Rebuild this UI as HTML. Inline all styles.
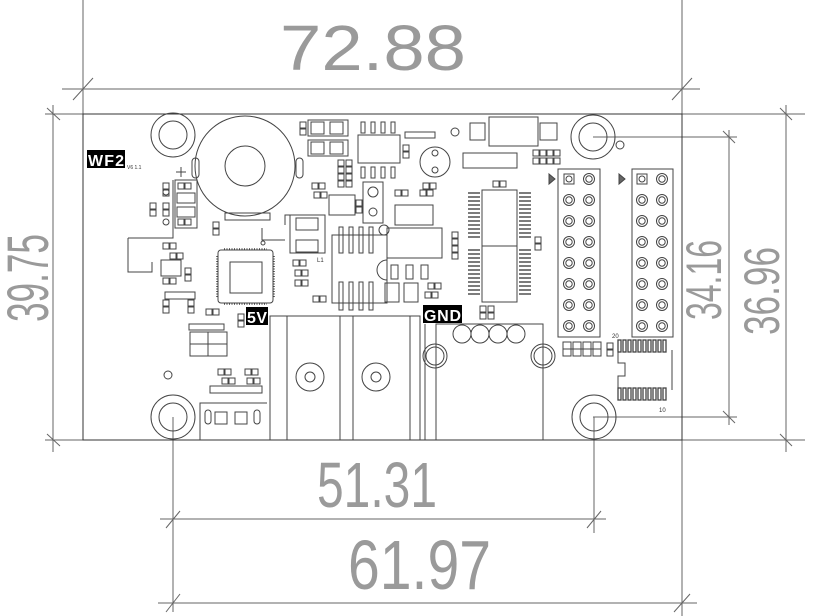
<!DOCTYPE html>
<html><head><meta charset="utf-8"><style>
html,body{margin:0;padding:0;background:#fff;}
svg{display:block;}
.d{font-family:"Liberation Sans Narrow","Liberation Sans",sans-serif;fill:#9a9a9a;}
</style></head><body>
<svg width="825" height="616" viewBox="0 0 825 616" xmlns="http://www.w3.org/2000/svg">
<defs>
<g id="rp"><rect x="0" y="0" width="6" height="6"/><rect x="7" y="0" width="6" height="6"/></g>
<g id="rv"><rect x="0" y="0" width="6" height="6"/><rect x="0" y="7" width="6" height="6"/></g>
<g id="pin"><circle r="5.5"/><circle r="3.2"/></g>
</defs>
<g fill="none" stroke="#444" stroke-width="1">
<g stroke="#666">
<line x1="83" y1="0" x2="83" y2="114"/><line x1="682" y1="0" x2="682" y2="616"/>
<line x1="62" y1="89" x2="700" y2="89"/>
<line x1="73" y1="100" x2="93" y2="78"/><line x1="672" y1="100" x2="692" y2="78"/>
<line x1="45" y1="114" x2="805" y2="114"/><line x1="45" y1="440" x2="805" y2="440"/>
<line x1="53" y1="105" x2="53" y2="452"/>
<line x1="47" y1="108" x2="60" y2="120"/><line x1="47" y1="434" x2="60" y2="446"/>
<line x1="593" y1="137" x2="737" y2="137"/><line x1="593" y1="417" x2="737" y2="417"/>
<line x1="729" y1="130" x2="729" y2="425"/>
<line x1="723" y1="131" x2="735" y2="143"/><line x1="723" y1="411" x2="735" y2="423"/>
<line x1="786" y1="105" x2="786" y2="452"/>
<line x1="780" y1="108" x2="792" y2="120"/><line x1="780" y1="434" x2="792" y2="446"/>
<line x1="173" y1="417" x2="173" y2="612"/><line x1="594" y1="417" x2="594" y2="533"/>
<line x1="160" y1="519" x2="606" y2="519"/>
<line x1="166" y1="528" x2="180" y2="511"/><line x1="587" y1="528" x2="601" y2="511"/>
<line x1="158" y1="603" x2="697" y2="603"/>
<line x1="166" y1="612" x2="180" y2="594"/><line x1="674" y1="612" x2="690" y2="594"/>
</g>
<rect x="83" y="114" width="599" height="326" stroke="#333"/>
<circle cx="173" cy="135" r="22"/><circle cx="173" cy="135" r="14"/>
<circle cx="593" cy="137" r="22"/><circle cx="593" cy="137" r="14"/>
<circle cx="173" cy="417" r="22"/><circle cx="173" cy="417" r="14"/>
<circle cx="594" cy="417" r="22"/><circle cx="594" cy="417" r="14"/>
<circle cx="168" cy="375" r="4"/><circle cx="455" cy="132" r="4"/><circle cx="620" cy="145" r="4"/>
<circle cx="245" cy="166" r="50"/><circle cx="245" cy="166" r="20"/>
<rect x="192" y="158" width="7" height="20" rx="3.5"/><rect x="296" y="158" width="7" height="20" rx="3.5"/>
<rect x="225" y="213" width="45" height="7"/>
<line x1="181" y1="167" x2="181" y2="177"/><line x1="176" y1="172" x2="186" y2="172"/>
<use href="#rv" x="163" y="183"/><use href="#rv" x="163" y="203" /><use href="#rv" x="150" y="203"/>
<rect x="175" y="180" width="22" height="48"/>
<use href="#rp" x="178" y="183"/><rect x="177" y="193" width="18" height="10"/><rect x="177" y="207" width="18" height="10"/><use href="#rp" x="178" y="219"/>
<circle cx="166" cy="192" r="3"/><circle cx="166" cy="222" r="3"/>
<polyline points="128,238 173,238 173,180"/><polyline points="128,238 128,272 152,272 152,262"/>
<use href="#rp" x="163" y="243"/><use href="#rp" x="170" y="253"/><rect x="161" y="260" width="20" height="16"/><use href="#rp" x="163" y="278"/><use href="#rv" x="185" y="268"/>
<rect x="165" y="292" width="30" height="7"/><use href="#rv" x="163" y="300"/><use href="#rv" x="188" y="300"/>
<use href="#rv" x="213" y="222"/>
<use href="#rp" x="206" y="309"/><use href="#rv" x="238" y="314"/>
<rect x="189" y="324" width="35" height="6"/>
<rect x="190" y="332" width="37" height="24"/><line x1="208" y1="332" x2="208" y2="356"/><line x1="190" y1="344" x2="227" y2="344"/>
<use href="#rp" x="218" y="369"/><use href="#rp" x="245" y="369"/><use href="#rp" x="222" y="378"/><use href="#rp" x="247" y="378"/>
<rect x="210" y="386" width="52" height="7"/>
<polyline points="200,440 200,403 267,403"/>
<rect x="205" y="410" width="6" height="14" rx="3"/><rect x="254" y="410" width="6" height="14" rx="3"/>
<rect x="215" y="412" width="12" height="12"/><rect x="235" y="412" width="12" height="12"/>
<rect x="218" y="250" width="55" height="53" rx="3"/>
<rect x="230" y="262" width="32" height="31"/>
<g stroke-width="1.5" stroke-dasharray="1 1.5"><line x1="224" y1="249" x2="267" y2="249"/><line x1="224" y1="304" x2="267" y2="304"/><line x1="217" y1="256" x2="217" y2="297"/><line x1="274" y1="256" x2="274" y2="297"/></g>
<polyline points="262,228 262,240 285,240"/><circle cx="263" cy="243" r="2"/>
<rect x="290" y="215" width="35" height="38"/><rect x="296" y="218" width="22" height="12"/><rect x="296" y="240" width="22" height="12"/>
<polyline points="285,225 285,215 290,215"/>
<use href="#rp" x="293" y="260"/><use href="#rp" x="295" y="270"/><use href="#rp" x="295" y="280"/><use href="#rp" x="313" y="296"/>
<text x="317" y="262" font-size="6" fill="#333" stroke="none" font-family="Liberation Sans">L1</text>
<use href="#rv" x="300" y="122"/>
<rect x="308" y="120" width="40" height="16"/><rect x="311" y="122" width="13" height="12"/><rect x="330" y="122" width="13" height="12"/>
<rect x="308" y="140" width="40" height="16"/><rect x="311" y="142" width="13" height="12"/><rect x="330" y="142" width="13" height="12"/>
<rect x="358" y="135" width="42" height="28"/>
<rect x="361" y="122" width="4" height="11"/><rect x="371" y="122" width="4" height="11"/><rect x="381" y="122" width="4" height="11"/><rect x="391" y="122" width="4" height="11"/>
<rect x="361" y="167" width="4" height="11"/><rect x="371" y="167" width="4" height="11"/><rect x="381" y="167" width="4" height="11"/><rect x="391" y="167" width="4" height="11"/>
<rect x="405" y="132" width="30" height="6"/><use href="#rv" x="403" y="145"/>
<use href="#rv" x="338" y="160"/><use href="#rv" x="346" y="160"/><use href="#rv" x="338" y="174"/><use href="#rv" x="346" y="174"/>
<use href="#rp" x="312" y="183"/><use href="#rp" x="314" y="192"/>
<rect x="329" y="195" width="26" height="20"/><use href="#rv" x="356" y="200"/>
<rect x="363" y="182" width="20" height="41"/><circle cx="373" cy="192" r="5"/><circle cx="373" cy="212" r="4"/>
<circle cx="435" cy="162" r="15"/><circle cx="435" cy="153" r="3"/><circle cx="435" cy="170" r="3"/>
<use href="#rp" x="395" y="190"/><use href="#rp" x="420" y="190"/><use href="#rp" x="423" y="183"/>
<rect x="395" y="205" width="38" height="20"/>
<rect x="332" y="235" width="55" height="68"/>
<rect x="339" y="227" width="4" height="26"/><rect x="349" y="227" width="4" height="26"/><rect x="359" y="227" width="4" height="26"/><rect x="369" y="227" width="4" height="26"/>
<rect x="339" y="282" width="4" height="28"/><rect x="349" y="282" width="4" height="28"/><rect x="359" y="282" width="4" height="28"/><rect x="369" y="282" width="4" height="28"/>
<circle cx="384" cy="230" r="5"/>
<rect x="387" y="228" width="55" height="30"/>
<path d="M387,260 A10,10 0 0 0 387,280"/>
<rect x="391" y="265" width="7" height="14"/><rect x="406" y="265" width="7" height="14"/><rect x="421" y="265" width="7" height="14"/>
<rect x="385" y="283" width="14" height="19"/><rect x="404" y="283" width="14" height="19"/>
<use href="#rp" x="428" y="283"/><use href="#rp" x="425" y="292"/>
<use href="#rv" x="452" y="232"/><use href="#rv" x="452" y="246"/><use href="#rv" x="535" y="237"/>
<rect x="482" y="190" width="35" height="112"/>
<g stroke-width="1.4">
<line x1="468" y1="193" x2="480" y2="193"/><line x1="468" y1="197" x2="480" y2="197"/><line x1="468" y1="201" x2="480" y2="201"/><line x1="468" y1="205" x2="480" y2="205"/><line x1="468" y1="209" x2="480" y2="209"/><line x1="468" y1="213" x2="480" y2="213"/><line x1="468" y1="217" x2="480" y2="217"/><line x1="468" y1="221" x2="480" y2="221"/><line x1="468" y1="225" x2="480" y2="225"/><line x1="468" y1="229" x2="480" y2="229"/><line x1="468" y1="233" x2="480" y2="233"/><line x1="468" y1="237" x2="480" y2="237"/>
<line x1="468" y1="250" x2="480" y2="250"/><line x1="468" y1="254" x2="480" y2="254"/><line x1="468" y1="258" x2="480" y2="258"/><line x1="468" y1="262" x2="480" y2="262"/><line x1="468" y1="266" x2="480" y2="266"/><line x1="468" y1="270" x2="480" y2="270"/><line x1="468" y1="274" x2="480" y2="274"/><line x1="468" y1="278" x2="480" y2="278"/><line x1="468" y1="282" x2="480" y2="282"/><line x1="468" y1="286" x2="480" y2="286"/><line x1="468" y1="290" x2="480" y2="290"/><line x1="468" y1="294" x2="480" y2="294"/>
<line x1="519" y1="193" x2="531" y2="193"/><line x1="519" y1="197" x2="531" y2="197"/><line x1="519" y1="201" x2="531" y2="201"/><line x1="519" y1="205" x2="531" y2="205"/><line x1="519" y1="209" x2="531" y2="209"/><line x1="519" y1="213" x2="531" y2="213"/><line x1="519" y1="217" x2="531" y2="217"/><line x1="519" y1="221" x2="531" y2="221"/><line x1="519" y1="225" x2="531" y2="225"/><line x1="519" y1="229" x2="531" y2="229"/><line x1="519" y1="233" x2="531" y2="233"/><line x1="519" y1="237" x2="531" y2="237"/>
<line x1="519" y1="250" x2="531" y2="250"/><line x1="519" y1="254" x2="531" y2="254"/><line x1="519" y1="258" x2="531" y2="258"/><line x1="519" y1="262" x2="531" y2="262"/><line x1="519" y1="266" x2="531" y2="266"/><line x1="519" y1="270" x2="531" y2="270"/><line x1="519" y1="274" x2="531" y2="274"/><line x1="519" y1="278" x2="531" y2="278"/><line x1="519" y1="282" x2="531" y2="282"/><line x1="519" y1="286" x2="531" y2="286"/><line x1="519" y1="290" x2="531" y2="290"/><line x1="519" y1="294" x2="531" y2="294"/>
</g>
<line x1="482" y1="246" x2="517" y2="246"/>
<use href="#rp" x="493" y="181"/>
<rect x="470" y="123" width="15" height="17"/><rect x="489" y="117" width="49" height="29"/><rect x="540" y="123" width="17" height="17"/>
<rect x="463" y="153" width="54" height="15"/>
<use href="#rp" x="533" y="150"/><use href="#rp" x="547" y="150"/><use href="#rp" x="533" y="158"/><use href="#rp" x="547" y="158"/>
<rect x="558" y="169" width="42" height="168"/><rect x="632" y="169" width="41" height="168"/>
<rect x="564" y="174" width="10" height="10"/><rect x="637" y="174" width="10" height="10"/>
<circle cx="569" cy="179" r="3"/><circle cx="642" cy="179" r="3"/>
<use href="#pin" x="589" y="179"/><use href="#pin" x="662" y="179"/>
<use href="#pin" x="569" y="200"/><use href="#pin" x="589" y="200"/><use href="#pin" x="642" y="200"/><use href="#pin" x="662" y="200"/>
<use href="#pin" x="569" y="221"/><use href="#pin" x="589" y="221"/><use href="#pin" x="642" y="221"/><use href="#pin" x="662" y="221"/>
<use href="#pin" x="569" y="242"/><use href="#pin" x="589" y="242"/><use href="#pin" x="642" y="242"/><use href="#pin" x="662" y="242"/>
<use href="#pin" x="569" y="263"/><use href="#pin" x="589" y="263"/><use href="#pin" x="642" y="263"/><use href="#pin" x="662" y="263"/>
<use href="#pin" x="569" y="284"/><use href="#pin" x="589" y="284"/><use href="#pin" x="642" y="284"/><use href="#pin" x="662" y="284"/>
<use href="#pin" x="569" y="305"/><use href="#pin" x="589" y="305"/><use href="#pin" x="642" y="305"/><use href="#pin" x="662" y="305"/>
<use href="#pin" x="569" y="326"/><use href="#pin" x="589" y="326"/><use href="#pin" x="642" y="326"/><use href="#pin" x="662" y="326"/>
<polygon points="549,174 555,179 549,184" fill="#666"/><polygon points="619,174 625,179 619,184" fill="#666"/>
<rect x="563" y="342" width="8" height="14"/><rect x="573" y="342" width="8" height="14"/><rect x="583" y="342" width="8" height="14"/><rect x="593" y="342" width="8" height="14"/>
<line x1="563" y1="349" x2="601" y2="349"/>
<use href="#rv" x="607" y="343"/>
<polyline points="618,350 618,363 625,363 625,376 618,376 618,390"/>
<line x1="672" y1="350" x2="672" y2="390"/>
<g stroke-width="1.3"><rect x="618" y="340" width="3" height="12"/><rect x="623" y="340" width="3" height="12"/><rect x="628" y="340" width="3" height="12"/><rect x="633" y="340" width="3" height="12"/><rect x="638" y="340" width="3" height="12"/><rect x="643" y="340" width="3" height="12"/><rect x="648" y="340" width="3" height="12"/><rect x="653" y="340" width="3" height="12"/><rect x="658" y="340" width="3" height="12"/><rect x="663" y="340" width="3" height="12"/>
<rect x="618" y="388" width="3" height="12"/><rect x="623" y="388" width="3" height="12"/><rect x="628" y="388" width="3" height="12"/><rect x="633" y="388" width="3" height="12"/><rect x="638" y="388" width="3" height="12"/><rect x="643" y="388" width="3" height="12"/><rect x="648" y="388" width="3" height="12"/><rect x="653" y="388" width="3" height="12"/><rect x="658" y="388" width="3" height="12"/><rect x="663" y="388" width="3" height="12"/></g>
<polyline points="270,440 270,316 420,316 420,440"/>
<line x1="287" y1="316" x2="287" y2="440"/><line x1="340" y1="316" x2="340" y2="440"/><line x1="353" y1="316" x2="353" y2="440"/><line x1="410" y1="316" x2="410" y2="440"/>
<circle cx="310" cy="377" r="14"/><circle cx="310" cy="377" r="5"/>
<circle cx="376" cy="377" r="14"/><circle cx="376" cy="377" r="5"/>
<polyline points="436,440 436,324 543,324 543,440"/><line x1="425" y1="324" x2="425" y2="440"/>
<circle cx="435" cy="356" r="12"/><circle cx="435" cy="356" r="9"/>
<circle cx="543" cy="356" r="12"/><circle cx="543" cy="356" r="9"/>
<circle cx="462" cy="334" r="9"/><circle cx="480" cy="334" r="9"/><circle cx="498" cy="334" r="9"/><circle cx="516" cy="334" r="9"/>
<use href="#rv" x="480" y="306"/><use href="#rv" x="488" y="306"/>
</g>
<rect x="87" y="150" width="38" height="18" fill="#000"/>
<text x="88" y="166" font-family="Liberation Sans" font-weight="bold" font-size="16" fill="#fff" textLength="36">WF2</text>
<text x="127" y="169" font-family="Liberation Sans" font-size="5" fill="#333">V6 1.1</text>
<rect x="246" y="307" width="22" height="18" fill="#000"/>
<text x="247" y="323" font-family="Liberation Sans" font-weight="bold" font-size="16" fill="#fff" textLength="20">5V</text>
<rect x="423" y="305" width="39" height="18" fill="#000"/>
<text x="424" y="321" font-family="Liberation Sans" font-weight="bold" font-size="16" fill="#fff" textLength="37">GND</text>
<text x="612" y="338" font-family="Liberation Sans" font-size="6" fill="#333">20</text>
<text x="659" y="412" font-family="Liberation Sans" font-size="6" fill="#333">10</text>
<text class="d" x="280" y="70" font-size="64" textLength="186" lengthAdjust="spacingAndGlyphs">72.88</text>
<text class="d" x="317" y="507" font-size="64" textLength="120" lengthAdjust="spacingAndGlyphs">51.31</text>
<text class="d" x="348" y="589" font-size="70" textLength="143" lengthAdjust="spacingAndGlyphs">61.97</text>
<text class="d" transform="translate(48,322) rotate(-90)" font-size="58" textLength="88" lengthAdjust="spacingAndGlyphs">39.75</text>
<text class="d" transform="translate(721,320) rotate(-90)" font-size="50" textLength="80" lengthAdjust="spacingAndGlyphs">34.16</text>
<text class="d" transform="translate(779,335) rotate(-90)" font-size="50" textLength="88" lengthAdjust="spacingAndGlyphs">36.96</text>
</svg>
</body></html>
